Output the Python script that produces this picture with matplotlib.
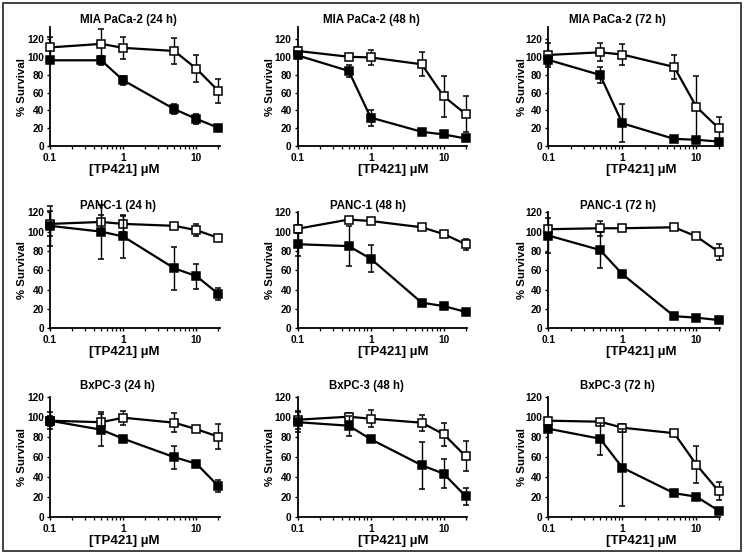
import matplotlib
matplotlib.use("Agg")
import matplotlib.pyplot as plt
from matplotlib.patches import Rectangle
import numpy as np

plt.rcParams['font.family'] = ['Liberation Sans', 'DejaVu Sans']
plt.rcParams['font.weight'] = 'bold'

conc = [0.1, 0.5, 1, 5, 10, 20]

titles = [
    "MIA PaCa-2 (24 h)", "MIA PaCa-2 (48 h)", "MIA PaCa-2 (72 h)",
    "PANC-1 (24 h)", "PANC-1 (48 h)", "PANC-1 (72 h)",
    "BxPC-3 (24 h)", "BxPC-3 (48 h)", "BxPC-3 (72 h)",
]

# open squares series
open_vals = [
    [111, 115, 110.5, 107, 87, 62],
    [107, 100.5, 99.7, 92, 56, 36],
    [102.5, 105.5, 103, 89, 44, 20],
    [108, 110, 108, 106, 101.5, 93.5],
    [103, 112.5, 111, 104.5, 97.5, 87],
    [102.5, 103.5, 103.5, 104.5, 95, 79],
    [96, 94.5, 99, 94, 87.5, 80],
    [97, 100, 98, 94, 82.5, 60.5],
    [96, 95, 89, 83.5, 52, 25.5],
]
open_err = [
    [12, 17, 12, 15, 15, 13.5],
    [5, 3, 8, 13.5, 23, 20],
    [13, 10, 12, 13.5, 35, 13],
    [13, 7, 8, 1.5, 6, 1.5],
    [4, 3, 2, 1.5, 2, 5.5],
    [3, 8, 2, 3, 2, 8.5],
    [8.5, 10.5, 7, 9.5, 3, 12.5],
    [9, 4, 8.5, 8, 11.5, 15],
    [2, 3, 4, 1.5, 18.5, 9],
]
# filled squares series
filled_vals = [
    [96.5, 96.5, 74, 41.5, 30.5, 20.5],
    [102, 84.5, 32, 16, 13, 8.5],
    [97, 80, 25.5, 8, 7, 5],
    [106, 100, 95, 62, 54, 35.5],
    [87, 85, 72, 26.5, 23, 17],
    [96, 81, 56, 12.5, 11, 8.5],
    [96, 87, 78, 59.5, 53, 30.5],
    [94.5, 91, 77.5, 51.5, 43, 20.5],
    [88, 78, 49, 23.5, 20, 6],
]
filled_err = [
    [3, 5, 5, 6, 6, 3],
    [4, 7, 9, 2, 2, 1],
    [6, 8.5, 21.5, 1, 1, 1],
    [21, 28, 22, 22, 13, 6],
    [12, 20.5, 14, 1.5, 1.5, 2],
    [18, 18.5, 2, 2, 1.5, 1],
    [5, 16, 2.5, 11.5, 1.5, 6],
    [10, 10, 1.5, 23.5, 14.5, 8.3],
    [1.5, 16, 38.5, 1.5, 3, 1],
]

W, H = 744, 557
fig = plt.figure(figsize=(W / 100, H / 100), dpi=100)

col_left = [50, 297.7, 548.3]
col_width = [170, 169.5, 172]
row_top = [27, 212.3, 396.7]
row_bot = [146, 328.3, 516.7]
row_ymax = [134, 120, 120]
title_y = [20.5, 205.5, 386.5]
title_x = [[128, 371.7, 617.5], [118, 368.3, 618.3], [117.5, 366.7, 617]]
xlab_x = [124.5, 393, 641]
ylab_x = [21.7, 270, 521.7]


def draw(ax, y, e, face, z):
    cont = ax.errorbar(conc, y, yerr=e, color='black', lw=1.6,
                       marker='s', ms=5.3, mfc=face, mec='black', mew=1.1,
                       ecolor='black', elinewidth=1.0, capsize=2.5, capthick=1.0, zorder=z)
    for art in cont.get_children():
        art.set_clip_on(False)


for i in range(9):
    r, c = divmod(i, 3)
    l = col_left[c] / W
    b = 1 - row_bot[r] / H
    w = col_width[c] / W
    h = (row_bot[r] - row_top[r]) / H
    ax = fig.add_axes([l, b, w, h])
    draw(ax, open_vals[i], open_err[i], 'white', 3)
    draw(ax, filled_vals[i], filled_err[i], 'black', 4)
    ax.set_xscale('log')
    ax.set_xlim(0.1, 21)
    ax.set_ylim(0, row_ymax[r])
    ax.set_yticks([0, 20, 40, 60, 80, 100, 120])
    ax.set_xticks([0.1, 1, 10])
    ax.set_xticklabels(['0.1', '1', '10'])
    for s in ['top', 'right']:
        ax.spines[s].set_visible(False)
    for s in ['left', 'bottom']:
        ax.spines[s].set_linewidth(1.3)
    ax.tick_params(axis='x', which='major', labelsize=7.3, length=2.5, width=1.0, pad=2.5)
    ax.tick_params(axis='y', which='major', labelsize=7.3, length=2.5, width=1.0, pad=1.8)
    ax.tick_params(axis='x', which='minor', length=2, width=0.9)
    for t in ax.get_xticklabels() + ax.get_yticklabels():
        t.set_fontweight('bold')
    fig.text(title_x[r][c] / W, 1 - title_y[r] / H, titles[i], ha='center', va='center',
             fontsize=8.3, fontweight='bold')
    fig.text(xlab_x[c] / W, 1 - (row_bot[r] + 24) / H, '[TP421] µM', ha='center', va='center',
             fontsize=9.5, fontweight='bold')
    fig.text(ylab_x[c] / W, 1 - (row_top[r] + row_bot[r]) / 2 / H, '% Survival', ha='center',
             va='center', rotation=90, fontsize=8.2, fontweight='bold')

fig.patches.append(Rectangle((3 / W, 1 - 551 / H), 738 / W, 548 / H, transform=fig.transFigure,
                             fill=False, edgecolor='#333333', lw=1.3))

fig.savefig('out.png', dpi=100)
